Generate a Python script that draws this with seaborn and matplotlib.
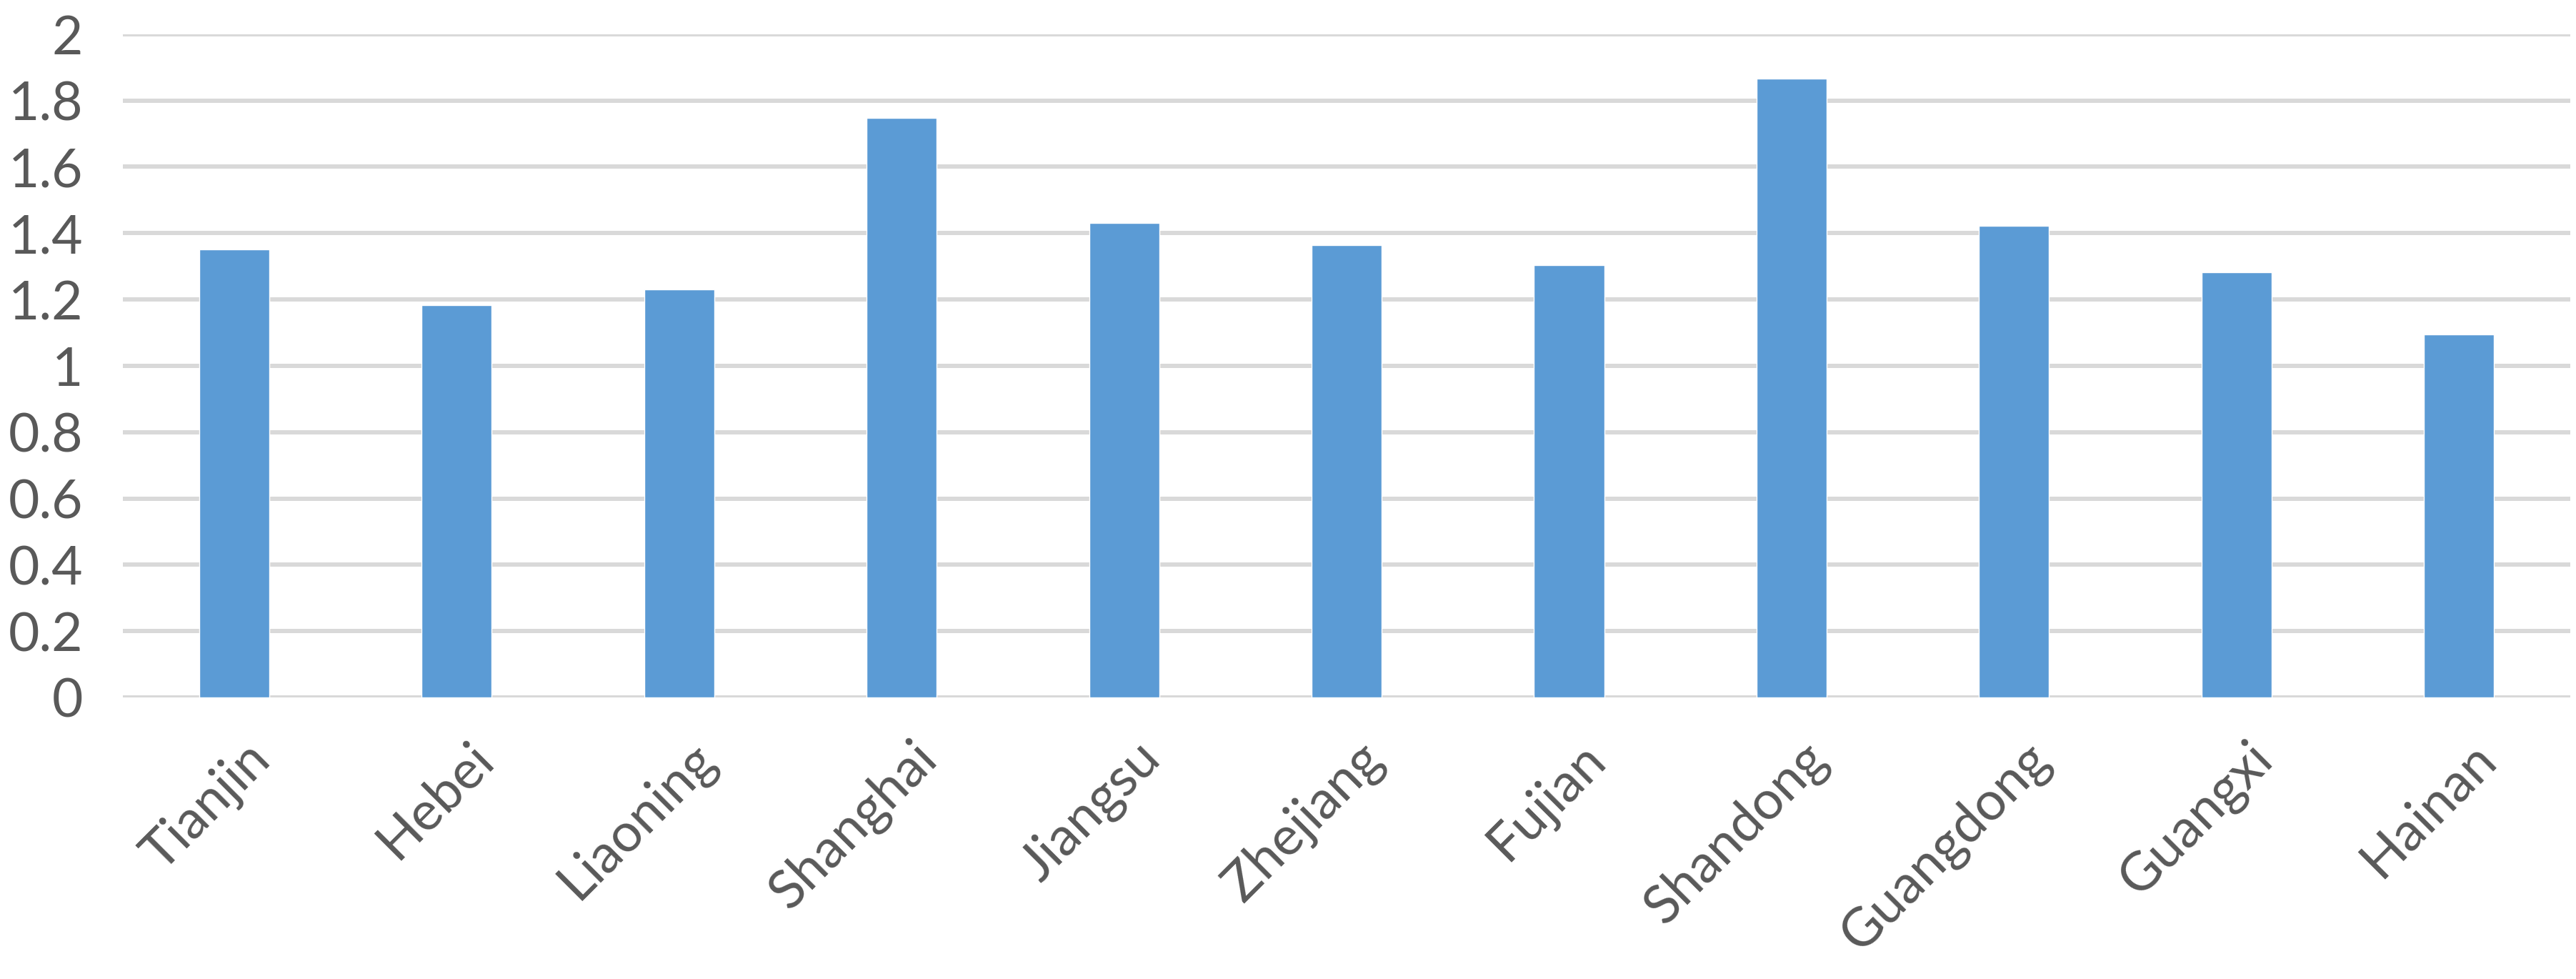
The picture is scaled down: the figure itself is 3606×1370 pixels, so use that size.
import numpy as np
import pandas as pd
import seaborn as sns
import matplotlib.pyplot as plt
from matplotlib.ticker import FuncFormatter, MultipleLocator
import matplotlib.transforms as mtransforms

# provinces and values
provincias = ["Tianjin", "Hebei", "Liaoning", "Shanghai", "Jiangsu", "Zhejiang",
              "Fujian", "Shandong", "Guangdong", "Guangxi", "Hainan"]
valores = [1.351, 1.182, 1.230, 1.748, 1.431, 1.365, 1.304, 1.867, 1.423, 1.281, 1.094]

y_min = 0
y_max = 2
y_paso = 0.2

sns.set_theme(style="white")
plt.rcParams["font.family"] = ["Lato", "DejaVu Sans"]

df = pd.DataFrame({"provincia": provincias, "valor": valores})

fig = plt.figure(figsize=(36.06, 13.70), dpi=100)
ax = fig.add_axes([0.0477, 0.2876, 0.9501, 0.6775])

sns.barplot(data=df, x="provincia", y="valor", color="#5B9BD5", saturation=1,
            width=0.315, ax=ax, zorder=3)

ax.set_ylim(y_min, y_max)
ax.set_xlim(-0.5, len(provincias) - 0.5)
ax.yaxis.set_major_locator(MultipleLocator(y_paso))
ax.yaxis.set_major_formatter(FuncFormatter(lambda v, p: "{:g}".format(round(v, 1))))
ax.grid(axis="y", color="#D9D9D9", linewidth=4.3, zorder=0)
ax.grid(axis="x", visible=False)
for s in ax.spines.values():
    s.set_visible(False)

ax.set_xlabel("")
ax.set_ylabel("")
ax.tick_params(axis="y", length=0, pad=40, labelsize=54, labelcolor="#595959")
ax.tick_params(axis="x", length=0, pad=54, labelsize=54, labelcolor="#595959")

ax.set_xticks(range(len(provincias)))
ax.set_xticklabels(provincias, rotation=45, ha="right", va="center",
                   rotation_mode="anchor")
desplaza = mtransforms.ScaledTranslation(28 / 72, 0, fig.dpi_scale_trans)
for lbl in ax.get_xticklabels():
    lbl.set_transform(lbl.get_transform() + desplaza)

fig.savefig("out.png", dpi=100, facecolor="white")
